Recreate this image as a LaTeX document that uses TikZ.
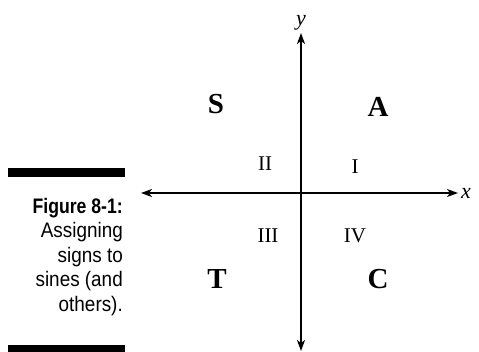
\documentclass[tikz,border=0pt]{standalone}
\usepackage{fontspec}
\setmainfont{Liberation Serif}
\newfontfamily\capfont[FakeStretch=0.9,BoldFeatures={FakeStretch=0.84}]{Liberation Sans}
\usetikzlibrary{arrows.meta,positioning}

\begin{document}
\begin{tikzpicture}[x=1pt,y=-1pt,
axis/.style={{Stealth[length=11pt,width=8pt,inset=3pt]}-{Stealth[length=11pt,width=8pt,inset=3pt]},line width=1.6pt},
sign/.style={font=\fontsize{29}{29}\selectfont\bfseries,inner sep=0pt},
quad/.style={font=\fontsize{21}{21}\selectfont,inner sep=0pt},
bar/.style={fill=black}]
\useasboundingbox (0,0) rectangle (479,352);
% axes
\coordinate (ytop) at (301,33);\coordinate (ybot) at (301,351);
\coordinate (xleft) at (141,193);\coordinate (xright) at (458,193);
\draw[axis](ybot)--(ytop);
\draw[axis](xleft)--(xright);
\node[font=\fontsize{22}{22}\selectfont\itshape,above=3pt of ytop,inner sep=0pt](ylab){y};
\node[font=\fontsize{22}{22}\selectfont\itshape,right=3pt of xright,inner sep=0pt](xlab){x};
% signs
\node[sign](S) at (216,104){S};
\node[sign](A) at (378,107){A};
\node[sign](T) at (217,279){T};
\node[sign](C) at (378,279){C};
% quadrants
\node[quad](q2) at (265,164){II};
\node[quad](q1) at (355,167){I};
\node[quad](q3) at (268,236){III};
\node[quad](q4) at (355,236){IV};
% caption
\fill[bar](8,168) rectangle (125,177);
\node[anchor=north east,align=right,inner sep=0pt,font=\capfont\fontsize{21}{24.5}\selectfont](cap) at (123,198)
{\textbf{Figure 8-1:}\\Assigning\\signs to\\sines (and\\others).};
\fill[bar](8,345) rectangle (125,352);
\end{tikzpicture}
\end{document}
